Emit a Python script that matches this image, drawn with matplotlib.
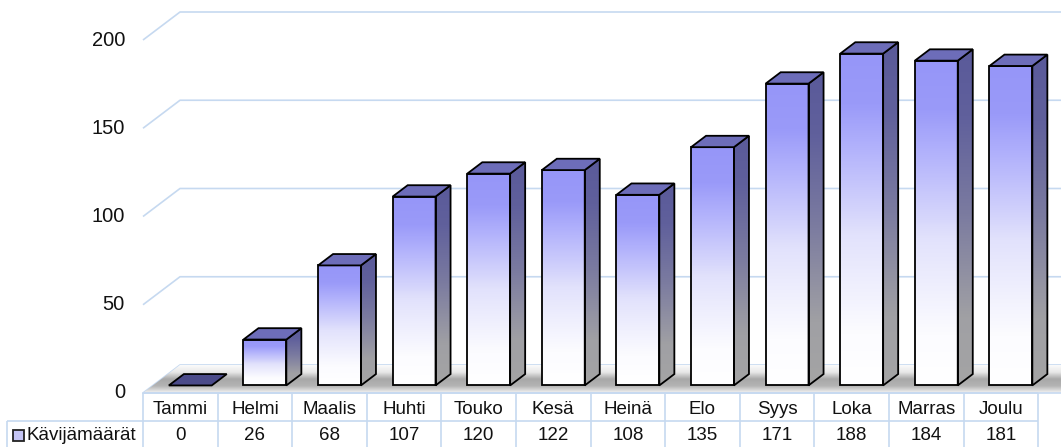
import matplotlib
matplotlib.use("Agg")
import matplotlib.pyplot as plt
import numpy as np
from matplotlib.patches import Polygon, Rectangle
from matplotlib.colors import LinearSegmentedColormap

plt.rcParams["font.family"] = ["Liberation Sans", "DejaVu Sans"]

# data
months = ["Tammi", "Helmi", "Maalis", "Huhti", "Touko", "Kesä",
          "Heinä", "Elo", "Syys", "Loka", "Marras", "Joulu"]
visitors = [0, 26, 68, 107, 120, 122, 108, 135, 171, 188, 184, 181]
series_name = "Kävijämäärät"
yticks = [0, 50, 100, 150, 200]

W, H = 1061, 447
fig = plt.figure(figsize=(W / 100, H / 100), dpi=100)
ax = fig.add_axes([0, 0, 1, 1])
ax.set_axis_off()

# pixel geometry of the reference -> data limits
col_px = 74.6           # px per category
x0_px = 143             # left edge of front plane
unit_px = 1.765         # px per value unit
base_px = 393           # y pixel of value 0 (from top)
xlim = (-0.5 - x0_px / col_px, -0.5 + (W - x0_px) / col_px)
ylim = ((base_px - H) / unit_px, base_px / unit_px)

# 3D depth vector (data units)
DX, DY = 37 / col_px, 28 / unit_px
f_front, f_back = 0.27, 0.676
bar_w = 0.575

grid_c = "#c6d9f0"
n = len(months)
x_right = xlim[1]

# floor with soft shadow
floor = Polygon([(-0.5, 0), (x_right, 0), (x_right, DY), (-0.5 + DX, DY)],
                closed=True, facecolor="none", edgecolor="none")
ax.add_patch(floor)
floor_cmap = LinearSegmentedColormap.from_list(
    "floor", ["#f4f4f4", "#b4b4b4", "#a8a8a8", "#e8e8e8", "#fbfbfb"])
grad = np.linspace(0, 1, 128).reshape(-1, 1)
im = ax.imshow(grad, cmap=floor_cmap, aspect="auto", origin="lower",
               extent=(-0.5, x_right, 0, DY), zorder=1)
im.set_clip_path(floor)

# gridlines (front-left diagonal then across the back wall)
for v in yticks:
    ax.plot([-0.5, -0.5 + DX, x_right], [v, v + DY, v + DY],
            color=grid_c, lw=1.2, zorder=0.5, solid_capstyle="butt")
ax.plot([-0.5, x_right], [0, 0], color=grid_c, lw=1.2, zorder=2)

front_cmap = LinearSegmentedColormap.from_list(
    "front", [(0, "#ffffff"), (0.15, "#fcfcff"), (0.45, "#e2e2fc"),
              (0.75, "#acacfb"), (0.85, "#9a9af9"), (1, "#9696f8")])
side_cmap = LinearSegmentedColormap.from_list(
    "side", [(0, "#a4a4a4"), (0.2, "#a0a0a4"), (0.5, "#7c7ca0"),
             (0.8, "#60609c"), (1, "#5a5a9a")])
top_c = "#6d6db9"

for i, v in enumerate(visitors):
    xl = i - bar_w / 2 + f_front * DX
    yb = f_front * DY
    ddx = (f_back - f_front) * DX
    ddy = (f_back - f_front) * DY
    if v == 0:
        top = Polygon([(xl, yb), (xl + bar_w, yb), (xl + bar_w + ddx, yb + ddy),
                       (xl + ddx, yb + ddy)], closed=True, facecolor="#4b4b8a",
                      edgecolor="black", lw=1.3, zorder=5)
        ax.add_patch(top)
        continue
    # front face
    face = Rectangle((xl, yb), bar_w, v, facecolor="none", edgecolor="none")
    ax.add_patch(face)
    fim = ax.imshow(grad, cmap=front_cmap, aspect="auto", origin="lower",
                    extent=(xl, xl + bar_w, yb, yb + v), zorder=4)
    fim.set_clip_path(face)
    ax.add_patch(Rectangle((xl, yb), bar_w, v, facecolor="none",
                           edgecolor="black", lw=1.3, zorder=6))
    # side face
    side_pts = [(xl + bar_w, yb), (xl + bar_w + ddx, yb + ddy),
                (xl + bar_w + ddx, yb + ddy + v), (xl + bar_w, yb + v)]
    side = Polygon(side_pts, closed=True, facecolor="none", edgecolor="none")
    ax.add_patch(side)
    sim = ax.imshow(grad, cmap=side_cmap, aspect="auto", origin="lower",
                    extent=(xl + bar_w, xl + bar_w + ddx, yb, yb + ddy + v), zorder=4)
    sim.set_clip_path(side)
    ax.add_patch(Polygon(side_pts, closed=True, facecolor="none",
                         edgecolor="black", lw=1.3, zorder=6))
    # top face
    ax.add_patch(Polygon([(xl, yb + v), (xl + bar_w, yb + v),
                          (xl + bar_w + ddx, yb + v + ddy), (xl + ddx, yb + v + ddy)],
                         closed=True, facecolor=top_c, edgecolor="black",
                         lw=1.3, zorder=6))

# y axis labels
for v in yticks:
    ax.text(-0.5 - 18 / col_px, v, str(v), ha="right", va="center",
            fontsize=14.5, color="#111111")

# data table
row_top = 0
row_mid = (base_px - 421) / unit_px
row_bot = ylim[0]
lbl_left = -0.5 - (x0_px - 7) / col_px
tkw = dict(color=grid_c, lw=1.2, zorder=3, solid_capstyle="butt")
ax.plot([-0.5, n - 0.5], [row_top, row_top], **tkw)
ax.plot([lbl_left, n - 0.5], [row_mid, row_mid], **tkw)
ax.plot([lbl_left, lbl_left], [row_mid, row_bot], **tkw)
for k in range(n + 1):
    ax.plot([k - 0.5, k - 0.5], [row_top, row_bot], **tkw)
for i, (m, v) in enumerate(zip(months, visitors)):
    ax.text(i, (base_px - 409) / unit_px, m, ha="center", va="center",
            fontsize=13.5, color="#111111")
    ax.text(i, (base_px - 435) / unit_px, str(v), ha="center", va="center",
            fontsize=13.5, color="#111111")
key_x = lbl_left + 6 / col_px
key_w = 11 / col_px
key_h = 11 / unit_px
ym = (base_px - 435) / unit_px
ax.add_patch(Rectangle((key_x, ym - key_h / 2), key_w, key_h, facecolor="#c4c4f4",
                       edgecolor="#222222", lw=1.3, zorder=5))
ax.text(key_x + key_w + 3 / col_px, ym, series_name, ha="left", va="center",
        fontsize=13.5, color="#111111")

ax.set_xlim(*xlim)
ax.set_ylim(*ylim)
fig.savefig("out.png", dpi=100)
